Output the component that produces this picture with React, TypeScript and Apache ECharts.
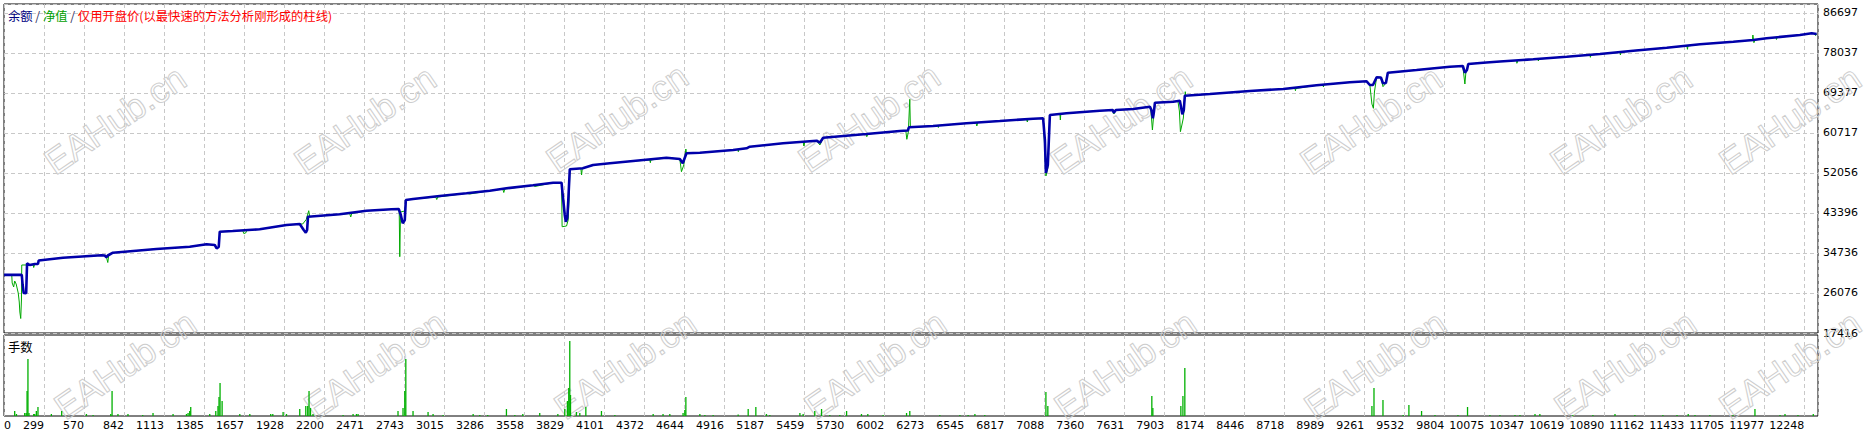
import React, { useEffect, useRef } from 'react';
import * as echarts from 'echarts';

// ---- data ----
const xTickLabels = [0, 299, 570, 842, 1113, 1385, 1657, 1928, 2200, 2471, 2743, 3015, 3286, 3558, 3829, 4101, 4372, 4644, 4916, 5187, 5459, 5730, 6002, 6273, 6545, 6817, 7088, 7360, 7631, 7903, 8174, 8446, 8718, 8989, 9261, 9532, 9804, 10075, 10347, 10619, 10890, 11162, 11433, 11705, 11977, 12248];
const yTickLabels = [17416, 26076, 34736, 43396, 52056, 60717, 69377, 78037, 86697];

const balancePoints: [number, number][] = [
  [28, 30000], [148, 30000], [154, 27808], [161, 26076], [178, 26010], [184, 32506], [202, 32138], [236, 32354], [258, 32354], [263, 33112],
  [428, 33718], [689, 34238], [711, 34194], [723, 33805], [732, 34194], [767, 34800], [1062, 35602], [1288, 36099], [1402, 36619], [1458, 36468],
  [1471, 35753], [1485, 36035], [1492, 39347], [1580, 39499], [1763, 39867], [1945, 40798], [2035, 41014], [2062, 39715], [2076, 39130], [2085, 39715],
  [2091, 42594], [2306, 43114], [2488, 43893], [2658, 44197], [2707, 44262], [2721, 42962], [2734, 41166], [2748, 41880], [2755, 46210], [2804, 46426],
  [2985, 47076], [3167, 47661], [3325, 48223], [3438, 48743], [3619, 49393], [3755, 49955], [3812, 49955], [3820, 47292], [3834, 42962], [3841, 41512],
  [3851, 42313], [3858, 46210], [3868, 52857], [3956, 53073], [4026, 53788], [4140, 54156], [4298, 54654], [4524, 55368], [4615, 55087], [4635, 54156],
  [4660, 56321], [4751, 56450], [4977, 57035], [5068, 57403], [5090, 57749], [5316, 58486], [5452, 58832], [5543, 59048], [5566, 58615], [5588, 59698],
  [5882, 60499], [6108, 61148], [6163, 61257], [6170, 61950], [6334, 62231], [6561, 62816], [6787, 63313], [7013, 63811], [7081, 63898], [7093, 59200],
  [7100, 52056], [7113, 53788], [7127, 64612], [7240, 64981], [7466, 65543], [7554, 65695], [7561, 65110], [7575, 65695], [7692, 65912], [7806, 66409],
  [7816, 65695], [7826, 63898], [7833, 65262], [7840, 67275], [7964, 67492], [8009, 67708], [8016, 66561], [8026, 64764], [8036, 65695], [8043, 68791],
  [8213, 69159], [8484, 69809], [8711, 70242], [8937, 71043], [9163, 71692], [9277, 71909], [9299, 71108], [9320, 71108], [9345, 72775], [9374, 72731],
  [9388, 71476], [9408, 71541], [9421, 73770], [9616, 74355], [9842, 75069], [9930, 75221], [9944, 73770], [9958, 74355], [9967, 75654], [10068, 75935],
  [10182, 76195], [10408, 76672], [10635, 77234], [10861, 77819], [11087, 78533], [11314, 79183], [11540, 79919], [11766, 80482], [11901, 80850], [11992, 81218],
  [12218, 81932], [12298, 82301], [12332, 82149]
];

const equityPoints: [number, number][] = [
  [28, 30000], [80, 30000], [83, 28241], [93, 27375], [100, 28674], [110, 28024], [124, 26076], [131, 24127], [135, 21962], [141, 20555],
  [146, 24560], [148, 32138], [182, 32138], [185, 32506], [202, 32138], [226, 32138], [229, 31596], [236, 32354], [258, 32354], [263, 33112],
  [428, 33718], [689, 34238], [711, 34194], [723, 33805], [732, 32679], [738, 34194], [767, 34800], [1062, 35602], [1288, 36099], [1402, 36619],
  [1458, 36468], [1471, 35753], [1485, 36035], [1492, 39347], [1580, 39499], [1648, 39585], [1655, 38957], [1668, 39065], [1675, 39607], [1763, 39867],
  [1945, 40798], [2035, 41014], [2055, 41014], [2079, 41988], [2096, 43893], [2103, 42594], [2306, 43114], [2374, 43287], [2381, 42530], [2388, 43287],
  [2488, 43893], [2658, 44197], [2710, 44219], [2714, 33934], [2719, 43612], [2748, 43829], [2757, 46210], [2804, 46426], [2958, 46859], [2965, 46318],
  [2972, 46859], [3167, 47661], [3189, 47509], [3325, 48223], [3413, 48591], [3420, 47834], [3427, 48591], [3619, 49393], [3630, 49133], [3755, 49955],
  [3812, 49955], [3816, 40429], [3846, 40581], [3857, 41880], [3865, 47725], [3868, 52857], [3943, 53051], [3948, 51623], [3953, 53051], [4026, 53788],
  [4140, 54156], [4298, 54654], [4411, 54870], [4415, 54285], [4418, 54870], [4524, 55368], [4615, 55087], [4626, 52337], [4642, 53788], [4656, 57251],
  [4660, 56321], [4751, 56450], [4977, 57035], [5009, 57143], [5012, 56667], [5016, 57143], [5068, 57403], [5090, 57749], [5316, 58486], [5452, 58832],
  [5457, 57901], [5464, 58832], [5543, 59048], [5566, 58117], [5588, 59698], [5882, 60499], [5884, 59915], [5891, 60499], [6108, 61148], [6149, 61235],
  [6156, 59352], [6166, 60932], [6176, 68012], [6180, 61950], [6334, 62231], [6366, 62339], [6370, 61906], [6373, 62339], [6561, 62816], [6625, 62989],
  [6631, 62231], [6638, 62989], [6787, 63313], [6969, 63638], [6974, 63097], [6978, 63683], [7081, 63898], [7093, 57035], [7100, 51406], [7113, 53138],
  [7127, 64612], [7195, 64829], [7198, 63530], [7201, 64829], [7240, 64981], [7466, 65543], [7554, 65695], [7561, 64829], [7575, 65695], [7692, 65912],
  [7806, 66409], [7813, 65479], [7823, 61365], [7830, 63963], [7840, 67275], [7964, 67492], [7996, 67644], [8006, 65479], [8013, 60997], [8023, 62448],
  [8033, 63963], [8040, 66994], [8046, 69657], [8050, 68791], [8213, 69159], [8484, 69809], [8711, 70242], [8790, 70350], [8794, 69874], [8797, 70350],
  [8937, 71043], [8980, 71108], [8984, 70675], [8987, 71216], [9163, 71692], [9277, 71909], [9299, 71108], [9313, 66994], [9323, 66063], [9330, 69592],
  [9345, 72775], [9374, 72731], [9388, 70739], [9408, 71541], [9421, 73770], [9616, 74355], [9842, 75069], [9930, 75221], [9944, 71324], [9951, 73922],
  [9958, 74355], [9967, 75654], [10068, 75935], [10182, 76195], [10295, 76412], [10297, 75806], [10304, 76412], [10408, 76672], [10440, 76737], [10443, 76304],
  [10447, 76737], [10635, 77234], [10793, 77602], [10796, 77105], [10800, 77602], [10861, 77819], [10996, 78187], [11000, 77602], [11003, 78187], [11087, 78533],
  [11314, 79183], [11451, 79551], [11455, 78837], [11458, 79551], [11540, 79919], [11766, 80482], [11896, 80850], [11899, 81932], [11906, 80266], [11913, 80850],
  [11992, 81218], [12056, 81391], [12059, 80958], [12063, 81391], [12218, 81932], [12298, 82301], [12320, 82214], [12324, 81824], [12332, 82149]
];

const lotPoints: [number, number][] = [
  [100, 0.5], [112, 0.2], [168, 0.3], [178, 0.3], [184, 2.5], [190, 5.7], [197, 0.3], [229, 0.2], [236, 0.2], [247, 0.5],
  [258, 0.9], [349, 0.2], [419, 0.5], [587, 0.2], [632, 0.1], [752, 0.2], [761, 2.5], [801, 0.2], [869, 0.2], [969, 0.1],
  [1039, 0.3], [1175, 0.2], [1266, 0.2], [1277, 0.3], [1288, 0.5], [1295, 0.9], [1424, 0.2], [1465, 0.5], [1480, 1.0], [1487, 1.9],
  [1494, 3.3], [1508, 1.5], [1628, 0.2], [1696, 0.2], [1838, 0.2], [1852, 0.2], [1922, 0.4], [1945, 0.2], [2035, 0.7], [2076, 1.0],
  [2089, 1.0], [2098, 2.5], [2108, 0.8], [2125, 0.2], [2329, 0.1], [2397, 0.2], [2420, 0.2], [2431, 0.2], [2702, 0.5], [2736, 0.8],
  [2748, 2.5], [2755, 5.7], [2804, 0.5], [2906, 0.4], [2940, 0.2], [3008, 0.1], [3212, 0.2], [3257, 0.1], [3311, 0.1], [3438, 0.7],
  [3495, 0.1], [3549, 0.2], [3664, 0.3], [3787, 0.2], [3834, 0.7], [3852, 1.5], [3861, 2.8], [3868, 7.5], [3873, 2.1], [3913, 0.4],
  [3936, 0.3], [3977, 0.9], [4083, 0.5], [4174, 0.1], [4434, 0.2], [4501, 0.2], [4547, 0.2], [4637, 0.3], [4649, 0.6], [4656, 1.9],
  [4751, 0.2], [4785, 0.1], [4841, 0.1], [5011, 0.15], [5079, 0.7], [5131, 0.9], [5203, 0.2], [5226, 0.1], [5430, 0.3], [5452, 0.2],
  [5531, 0.5], [5577, 0.7], [5633, 0.1], [5701, 0.1], [5747, 0.5], [5848, 0.2], [5891, 0.2], [5995, 0.1], [6154, 0.3], [6176, 0.5],
  [6380, 0.1], [6516, 0.1], [6572, 0.1], [6618, 0.2], [6685, 0.1], [7100, 2.4], [7113, 1.0], [7819, 2.0], [7826, 0.8], [8016, 1.0],
  [8030, 2.0], [8043, 4.8], [9313, 1.0], [9327, 2.8], [9388, 1.6], [9525, 0.1], [9564, 1.1], [9650, 0.5], [9741, 0.1], [9897, 0.1],
  [9962, 0.9], [10114, 0.1], [10182, 0.1], [10284, 0.1], [10318, 0.1], [10420, 0.2], [10453, 0.2], [10677, 0.1], [10813, 0.1], [10963, 0.2],
  [11098, 0.1], [11288, 0.1], [11384, 0.1], [11460, 0.2], [11506, 0.1], [11607, 0.1], [11764, 0.1], [11913, 0.7], [12083, 0.1], [12117, 0.2],
  [12205, 0.1], [12309, 0.2]
];

// ---- axis scales ----
const X_MIN = 27.43;
const X_STEP = 271.57;
const X_MAX = 12341;
const Y_MIN = 17416;
const Y_STEP = 8660.125;
const Y_MAX = 88644;
const LOT_MAX = 8.1;

const LABEL_FONT = '"DejaVu Sans", Tahoma, sans-serif';
const CJK_FONT = '"Noto Sans CJK SC", "Noto Sans", sans-serif';

const watermarkSpots: [number, number][] = [
  [115, 120], [365, 120], [617, 118], [869, 118], [1121, 120], [1371, 120], [1621, 120], [1790, 120],
  [125, 365], [375, 365], [625, 365], [875, 365], [1125, 365], [1375, 365], [1625, 365], [1790, 365]
];

export default function App() {
  const ref = useRef<HTMLDivElement>(null);

  useEffect(() => {
    document.body.style.margin = '0';
    if (!ref.current) return;
    const chart = echarts.init(ref.current, undefined, { renderer: 'svg' });

    const grid0 = { left: 4, top: 4, width: 1814, height: 329 };
    const grid1 = { left: 4, top: 335, width: 1814, height: 81 };

    const dashed = { show: true, lineStyle: { color: '#c8c8c8', type: [4, 3] as any, width: 1 } };

    const xLabel = (v: number) => {
      const i = Math.round((v - X_MIN) / X_STEP);
      if (i < 0 || i >= xTickLabels.length) return '';
      if (Math.abs(v - (X_MIN + i * X_STEP)) > 1) return '';
      return String(xTickLabels[i]);
    };
    const yLabel = (v: number) => {
      const i = Math.round((v - Y_MIN) / Y_STEP);
      if (i < 0 || i >= yTickLabels.length) return '';
      if (Math.abs(v - (Y_MIN + i * Y_STEP)) > 2) return '';
      return String(yTickLabels[i]);
    };

    const watermarks = watermarkSpots.map(([x, y]) => ({
      type: 'text',
      x,
      y,
      rotation: 0.6,
      silent: true,
      z: 1,
      style: {
        text: 'EAHub.cn',
        align: 'center',
        verticalAlign: 'middle',
        font: '36px "Liberation Sans", Arial, sans-serif',
        fill: 'rgba(255,255,255,0)',
        stroke: '#cdcdcd',
        lineWidth: 1
      }
    }));

    chart.setOption({
      animation: false,
      backgroundColor: '#ffffff',
      grid: [
        { ...grid0, show: true, borderColor: '#000', borderWidth: 1, backgroundColor: 'transparent' },
        { ...grid1, show: true, borderColor: '#000', borderWidth: 1, backgroundColor: 'transparent' }
      ],
      xAxis: [
        {
          type: 'value', gridIndex: 0, min: X_MIN, max: X_MAX, interval: X_STEP,
          axisLine: { show: false }, axisTick: { show: false }, axisLabel: { show: false },
          splitLine: dashed
        },
        {
          type: 'value', gridIndex: 1, min: X_MIN, max: X_MAX, interval: X_STEP,
          axisLine: { show: false }, axisTick: { show: false },
          axisLabel: {
            show: true, formatter: xLabel, align: 'right', alignMinLabel: 'left',
            color: '#000', fontSize: 11, fontFamily: LABEL_FONT, margin: 4
          },
          splitLine: dashed
        }
      ],
      yAxis: [
        {
          type: 'value', gridIndex: 0, position: 'right', min: Y_MIN, max: Y_MAX, interval: Y_STEP,
          axisLine: { show: false }, axisTick: { show: false },
          axisLabel: { show: true, formatter: yLabel, color: '#000', fontSize: 11, fontFamily: LABEL_FONT, margin: 5 },
          splitLine: dashed
        },
        {
          type: 'value', gridIndex: 1, min: 0, max: LOT_MAX,
          axisLine: { show: false }, axisTick: { show: false }, axisLabel: { show: false },
          splitLine: { show: false }
        }
      ],
      graphic: [
        ...watermarks,
        {
          type: 'text', x: 8, y: 15.5, z: 10,
          style: {
            text: '{a|余额} {s|/} {b|净值} {s|/} {c|仅用开盘价(以最快速的方法分析刚形成的柱线)}',
            verticalAlign: 'middle',
            font: '12.3px ' + CJK_FONT,
            rich: {
              a: { fill: '#000080', font: '12.3px ' + CJK_FONT },
              s: { fill: '#303060', font: '12.3px ' + CJK_FONT },
              b: { fill: '#00a000', font: '12.3px ' + CJK_FONT },
              c: { fill: '#ff0000', font: '12.3px ' + CJK_FONT }
            }
          }
        },
        {
          type: 'text', x: 8, y: 346.5, z: 10,
          style: { text: '手数', verticalAlign: 'middle', fill: '#000', font: '12.3px ' + CJK_FONT }
        }
      ],
      series: [
        {
          name: '净值', type: 'line', xAxisIndex: 0, yAxisIndex: 0, data: equityPoints,
          symbol: 'none', z: 3, lineStyle: { color: '#00a800', width: 1 }, itemStyle: { color: '#00a800' }
        },
        {
          name: '余额', type: 'line', xAxisIndex: 0, yAxisIndex: 0, data: balancePoints,
          symbol: 'none', z: 4, lineStyle: { color: '#0000aa', width: 2.6 }, itemStyle: { color: '#0000aa' }
        },
        {
          name: '手数', type: 'bar', xAxisIndex: 1, yAxisIndex: 1, data: lotPoints,
          barWidth: 1.3, z: 3, itemStyle: { color: '#00b000' }
        }
      ]
    });

    return () => chart.dispose();
  }, []);

  return <div ref={ref} style={{ width: 1873, height: 435 }} />;
}
